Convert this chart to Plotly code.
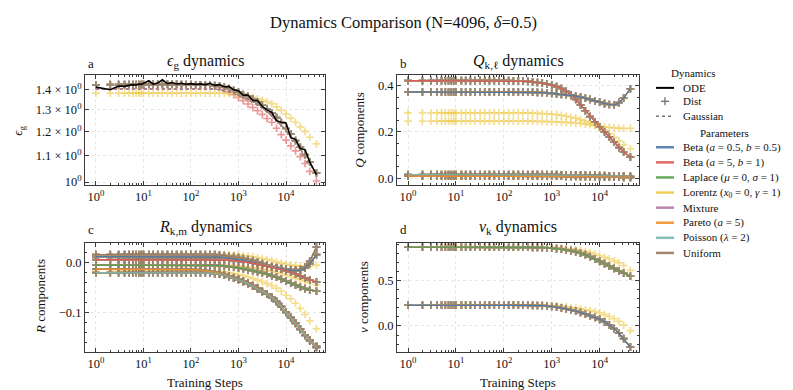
import math
import plotly.graph_objects as go

W, H = 793, 390
FONT = "Liberation Serif"

# training steps at which everything is evaluated
STEPS = [1, 2, 3, 4, 5, 6, 7, 8, 9, 10,
         13, 16, 20, 25, 32, 40, 50, 63, 79, 100,
         126, 158, 200, 251, 316, 398, 501, 631, 794, 1000,
         1259, 1585, 1995, 2512, 3162, 3981, 5012, 6310, 7943, 10000,
         12589, 15849, 19953, 25119, 31623, 43652]

DIST_NAMES = ["Beta05", "Beta51", "Laplace", "Lorentz", "Mixture", "Pareto", "Poisson", "Uniform"]
DIST_LABELS = ["Beta (<i>a</i> = 0.5, <i>b</i> = 0.5)", "Beta (<i>a</i> = 5, <i>b</i> = 1)",
               "Laplace (<i>μ</i> = 0, <i>σ</i> = 1)", "Lorentz (<i>x</i><sub>0</sub> = 0, <i>γ</i> = 1)",
               "Mixture", "Pareto (<i>a</i> = 5)", "Poisson (<i>λ</i> = 2)", "Uniform"]
DIST_COLORS = ["#4e79a7", "#e15759", "#59a14f", "#edc948", "#b07aa1", "#f28e2b", "#76b7b2", "#9c755f"]

# ---- eps_g ----
EPS_MAIN = [1.424, 1.425, 1.425, 1.425, 1.425, 1.425, 1.425, 1.425, 1.425, 1.425,
            1.426, 1.426, 1.426, 1.426, 1.426, 1.426, 1.426, 1.425, 1.425, 1.425,
            1.424, 1.424, 1.423, 1.422, 1.420, 1.417, 1.412, 1.405, 1.396, 1.386,
            1.374, 1.365, 1.352, 1.338, 1.322, 1.304, 1.285, 1.264, 1.241, 1.215,
            1.190, 1.163, 1.135, 1.105, 1.076, 1.034]
EPS_BETA51 = [1.424, 1.425, 1.425, 1.425, 1.425, 1.425, 1.425, 1.425, 1.425, 1.425,
              1.426, 1.426, 1.426, 1.426, 1.426, 1.426, 1.426, 1.425, 1.425, 1.425,
              1.424, 1.424, 1.423, 1.422, 1.418, 1.410, 1.400, 1.388, 1.374, 1.360,
              1.344, 1.328, 1.312, 1.296, 1.279, 1.260, 1.243, 1.216, 1.188, 1.165,
              1.141, 1.120, 1.097, 1.070, 1.040, 1.004]
EPS_LORENTZ = [1.382, 1.382, 1.382, 1.382, 1.382, 1.382, 1.382, 1.382, 1.382, 1.382,
               1.382, 1.382, 1.382, 1.382, 1.382, 1.382, 1.382, 1.382, 1.382, 1.382,
               1.382, 1.382, 1.382, 1.382, 1.382, 1.381, 1.380, 1.379, 1.377, 1.374,
               1.370, 1.365, 1.360, 1.353, 1.346, 1.339, 1.330, 1.314, 1.297, 1.280,
               1.262, 1.243, 1.222, 1.202, 1.177, 1.149]
EPS_GAUSS = [1.402, 1.402, 1.402, 1.402, 1.402, 1.402, 1.402, 1.402, 1.402, 1.402,
             1.402, 1.402, 1.402, 1.402, 1.402, 1.402, 1.402, 1.402, 1.402, 1.402,
             1.402, 1.402, 1.402, 1.402, 1.402, 1.398, 1.394, 1.388, 1.380, 1.371,
             1.360, 1.349, 1.337, 1.323, 1.308, 1.291, 1.273, 1.252, 1.230, 1.206,
             1.181, 1.155, 1.128, 1.100, 1.072, 1.030]
EPS_ODE = [1.412, 1.399, 1.418, 1.416, 1.421, 1.425, 1.423, 1.428, 1.426, 1.431,
           1.445, 1.428, 1.433, 1.450, 1.430, 1.436, 1.428, 1.432, 1.427, 1.430,
           1.426, 1.429, 1.425, 1.432, 1.421, 1.425, 1.414, 1.416, 1.398, 1.393,
           1.371, 1.372, 1.345, 1.345, 1.316, 1.300, 1.288, 1.250, 1.243, 1.240,
           1.175, 1.168, 1.130, 1.125, 1.075, 1.028]

# ---- Q components ----
Q_1 = [0.421, 0.421, 0.421, 0.421, 0.421, 0.421, 0.421, 0.421, 0.421, 0.421,
       0.421, 0.421, 0.421, 0.421, 0.421, 0.421, 0.421, 0.421, 0.421, 0.421,
       0.421, 0.420, 0.420, 0.419, 0.418, 0.416, 0.413, 0.410, 0.406, 0.401,
       0.395, 0.387, 0.375, 0.360, 0.340, 0.316, 0.291, 0.266, 0.243, 0.222,
       0.200, 0.178, 0.156, 0.132, 0.113, 0.091]
Q_2 = [0.372, 0.372, 0.372, 0.372, 0.372, 0.372, 0.372, 0.372, 0.372, 0.372,
       0.372, 0.372, 0.372, 0.372, 0.372, 0.372, 0.372, 0.372, 0.372, 0.372,
       0.372, 0.372, 0.372, 0.372, 0.372, 0.371, 0.370, 0.369, 0.368, 0.366,
       0.364, 0.362, 0.360, 0.357, 0.354, 0.350, 0.345, 0.340, 0.334, 0.328,
       0.322, 0.318, 0.316, 0.326, 0.346, 0.386]
Q_3 = [0.016, 0.016, 0.016, 0.016, 0.016, 0.016, 0.016, 0.016, 0.016, 0.016,
       0.016, 0.016, 0.016, 0.016, 0.016, 0.016, 0.016, 0.016, 0.016, 0.016,
       0.016, 0.016, 0.016, 0.016, 0.016, 0.016, 0.016, 0.016, 0.016, 0.016,
       0.016, 0.015, 0.015, 0.014, 0.014, 0.013, 0.013, 0.012, 0.012, 0.011,
       0.011, 0.010, 0.010, 0.009, 0.009, 0.008]
Q_4 = [0.009, 0.009, 0.009, 0.009, 0.009, 0.009, 0.009, 0.009, 0.009, 0.009,
       0.009, 0.009, 0.009, 0.009, 0.009, 0.009, 0.009, 0.009, 0.009, 0.009,
       0.009, 0.009, 0.009, 0.009, 0.009, 0.009, 0.009, 0.009, 0.009, 0.009,
       0.009, 0.009, 0.008, 0.008, 0.008, 0.007, 0.007, 0.007, 0.006, 0.006,
       0.006, 0.005, 0.005, 0.005, 0.004, 0.004]
QL_1 = [0.282, 0.282, 0.282, 0.282, 0.282, 0.282, 0.282, 0.282, 0.282, 0.282,
        0.282, 0.282, 0.282, 0.282, 0.282, 0.282, 0.282, 0.282, 0.282, 0.282,
        0.282, 0.282, 0.282, 0.282, 0.282, 0.281, 0.280, 0.279, 0.278, 0.276,
        0.274, 0.271, 0.268, 0.264, 0.259, 0.253, 0.246, 0.238, 0.229, 0.219,
        0.207, 0.192, 0.176, 0.160, 0.145, 0.127]
QL_2 = [0.246, 0.246, 0.246, 0.246, 0.246, 0.246, 0.246, 0.246, 0.246, 0.246,
        0.246, 0.246, 0.246, 0.246, 0.246, 0.246, 0.246, 0.246, 0.246, 0.246,
        0.246, 0.246, 0.246, 0.246, 0.246, 0.246, 0.245, 0.245, 0.244, 0.244,
        0.243, 0.242, 0.241, 0.240, 0.238, 0.236, 0.233, 0.230, 0.227, 0.224,
        0.221, 0.219, 0.217, 0.216, 0.215, 0.215]

# ---- R components ----
R_A = [0.015, 0.015, 0.015, 0.015, 0.015, 0.015, 0.015, 0.015, 0.015, 0.015,
       0.015, 0.015, 0.015, 0.015, 0.015, 0.015, 0.015, 0.015, 0.015, 0.015,
       0.015, 0.015, 0.015, 0.015, 0.015, 0.014, 0.013, 0.012, 0.011, 0.009,
       0.007, 0.005, 0.003, 0.000, -0.003, -0.006, -0.009, -0.011, -0.013, -0.014,
       -0.015, -0.016, -0.015, -0.010, 0.002, 0.030]
R_B = [0.011, 0.011, 0.011, 0.011, 0.011, 0.011, 0.011, 0.011, 0.011, 0.011,
       0.011, 0.011, 0.011, 0.011, 0.011, 0.011, 0.011, 0.011, 0.011, 0.011,
       0.011, 0.011, 0.011, 0.011, 0.011, 0.010, 0.009, 0.008, 0.007, 0.006,
       0.004, 0.002, 0.000, -0.002, -0.005, -0.008, -0.010, -0.012, -0.014, -0.015,
       -0.016, -0.017, -0.016, -0.012, -0.003, 0.015]
R_C = [0.005, 0.005, 0.005, 0.005, 0.005, 0.005, 0.005, 0.005, 0.005, 0.005,
       0.005, 0.005, 0.005, 0.005, 0.005, 0.005, 0.005, 0.005, 0.005, 0.005,
       0.005, 0.005, 0.005, 0.005, 0.005, 0.005, 0.004, 0.004, 0.003, 0.002,
       0.001, 0.000, -0.002, -0.004, -0.006, -0.008, -0.010, -0.012, -0.014, -0.017,
       -0.020, -0.024, -0.028, -0.032, -0.036, -0.040]
R_D = [-0.006, -0.006, -0.006, -0.006, -0.006, -0.006, -0.006, -0.006, -0.006, -0.006,
       -0.006, -0.006, -0.006, -0.006, -0.006, -0.006, -0.006, -0.006, -0.006, -0.006,
       -0.006, -0.006, -0.006, -0.006, -0.006, -0.007, -0.008, -0.009, -0.010, -0.012,
       -0.013, -0.015, -0.017, -0.019, -0.021, -0.024, -0.027, -0.030, -0.034, -0.038,
       -0.042, -0.046, -0.050, -0.053, -0.056, -0.058]
R_E = [-0.014, -0.014, -0.014, -0.014, -0.014, -0.014, -0.014, -0.014, -0.014, -0.014,
       -0.014, -0.014, -0.014, -0.014, -0.014, -0.014, -0.014, -0.014, -0.014, -0.015,
       -0.015, -0.016, -0.017, -0.018, -0.020, -0.022, -0.025, -0.028, -0.031, -0.034,
       -0.038, -0.042, -0.047, -0.052, -0.058, -0.063, -0.070, -0.078, -0.088, -0.099,
       -0.110, -0.121, -0.133, -0.145, -0.155, -0.168]
R_F = [-0.021, -0.021, -0.021, -0.021, -0.021, -0.021, -0.021, -0.021, -0.021, -0.021,
       -0.021, -0.021, -0.021, -0.021, -0.021, -0.021, -0.021, -0.021, -0.021, -0.021,
       -0.021, -0.021, -0.021, -0.022, -0.023, -0.024, -0.026, -0.029, -0.032, -0.035,
       -0.039, -0.043, -0.048, -0.053, -0.059, -0.064, -0.071, -0.079, -0.089, -0.100,
       -0.111, -0.122, -0.134, -0.146, -0.157, -0.170]
RL_A = [0.015, 0.015, 0.015, 0.015, 0.015, 0.015, 0.015, 0.015, 0.015, 0.015,
        0.015, 0.015, 0.015, 0.015, 0.015, 0.015, 0.015, 0.015, 0.015, 0.015,
        0.015, 0.015, 0.015, 0.015, 0.015, 0.015, 0.015, 0.015, 0.014, 0.014,
        0.013, 0.012, 0.011, 0.009, 0.007, 0.005, 0.003, 0.000, -0.002, -0.004,
        -0.006, -0.007, -0.008, -0.008, -0.008, -0.006]
RL_D = [-0.006, -0.006, -0.006, -0.006, -0.006, -0.006, -0.006, -0.006, -0.006, -0.006,
        -0.006, -0.006, -0.006, -0.006, -0.006, -0.006, -0.006, -0.006, -0.006, -0.006,
        -0.006, -0.006, -0.006, -0.006, -0.006, -0.006, -0.006, -0.007, -0.007, -0.008,
        -0.009, -0.010, -0.011, -0.012, -0.014, -0.016, -0.018, -0.020, -0.023, -0.026,
        -0.029, -0.032, -0.035, -0.038, -0.041, -0.045]
RL_E = [-0.018, -0.018, -0.018, -0.018, -0.018, -0.018, -0.018, -0.018, -0.018, -0.018,
        -0.018, -0.018, -0.018, -0.018, -0.018, -0.018, -0.018, -0.018, -0.018, -0.018,
        -0.018, -0.018, -0.018, -0.018, -0.018, -0.019, -0.020, -0.021, -0.023, -0.025,
        -0.027, -0.030, -0.033, -0.036, -0.039, -0.043, -0.047, -0.052, -0.058, -0.066,
        -0.073, -0.082, -0.092, -0.104, -0.117, -0.133]

# ---- v components ----
V_1 = [0.872, 0.872, 0.872, 0.872, 0.872, 0.872, 0.872, 0.872, 0.872, 0.872,
       0.872, 0.872, 0.872, 0.872, 0.872, 0.872, 0.872, 0.872, 0.872, 0.872,
       0.872, 0.872, 0.872, 0.872, 0.872, 0.871, 0.870, 0.868, 0.866, 0.862,
       0.857, 0.851, 0.843, 0.834, 0.823, 0.808, 0.790, 0.768, 0.743, 0.716,
       0.690, 0.664, 0.638, 0.611, 0.585, 0.551]
V_2 = [0.230, 0.230, 0.230, 0.230, 0.230, 0.230, 0.230, 0.230, 0.230, 0.230,
       0.230, 0.230, 0.230, 0.230, 0.230, 0.230, 0.230, 0.230, 0.230, 0.230,
       0.230, 0.230, 0.230, 0.230, 0.230, 0.229, 0.227, 0.225, 0.221, 0.216,
       0.209, 0.200, 0.190, 0.179, 0.166, 0.150, 0.133, 0.114, 0.095, 0.074,
       0.046, 0.012, -0.030, -0.080, -0.140, -0.234]
VL_1 = [0.872, 0.872, 0.872, 0.872, 0.872, 0.872, 0.872, 0.872, 0.872, 0.872,
        0.872, 0.872, 0.872, 0.872, 0.872, 0.872, 0.872, 0.872, 0.872, 0.872,
        0.872, 0.872, 0.872, 0.872, 0.872, 0.872, 0.871, 0.870, 0.869, 0.868,
        0.865, 0.862, 0.858, 0.852, 0.845, 0.836, 0.825, 0.812, 0.797, 0.778,
        0.760, 0.745, 0.722, 0.700, 0.670, 0.617]
VL_2 = [0.230, 0.230, 0.230, 0.230, 0.230, 0.230, 0.230, 0.230, 0.230, 0.230,
        0.230, 0.230, 0.230, 0.230, 0.230, 0.230, 0.230, 0.230, 0.230, 0.230,
        0.230, 0.230, 0.230, 0.230, 0.230, 0.230, 0.229, 0.228, 0.227, 0.225,
        0.222, 0.216, 0.211, 0.205, 0.198, 0.190, 0.180, 0.170, 0.158, 0.145,
        0.126, 0.105, 0.080, 0.050, 0.010, -0.051]

X_TICKS = [1, 10, 100, 1000, 10000]
X_TICK_TEXT = ["10<sup>0</sup>", "10<sup>1</sup>", "10<sup>2</sup>", "10<sup>3</sup>", "10<sup>4</sup>"]
X_MINOR = [m * 10 ** k for k in range(5) for m in range(2, 10)]
EPS_TICKS = [1.0, 1.1, 1.2, 1.3, 1.4]
EPS_TICK_TEXT = ["10<sup>0</sup>", "1.1 × 10<sup>0</sup>", "1.2 × 10<sup>0</sup>",
                 "1.3 × 10<sup>0</sup>", "1.4 × 10<sup>0</sup>"]


def px(x):
    return x / W


def py(y):
    return 1 - y / H


def rgba(c, a):
    c = c.lstrip("#")
    return "rgba(%d,%d,%d,%s)" % (int(c[0:2], 16), int(c[2:4], 16), int(c[4:6], 16), a)


fig = go.Figure()


def add_markers(xa, ya, comps):
    for name, col in zip(DIST_NAMES, DIST_COLORS):
        xs, ys = [], []
        for c in comps[name]:
            xs += STEPS + [None]
            ys += c + [None]
        fig.add_trace(go.Scatter(
            x=xs, y=ys, mode="markers", xaxis=xa, yaxis=ya, hoverinfo="skip",
            marker=dict(symbol="cross-thin", size=5.5, line=dict(width=1.7, color=rgba(col, 0.62)))))


def add_lines(xa, ya, comps, tops, dash="solid", width=1.1):
    for i, top in enumerate(tops):
        order = [d for d in DIST_NAMES if d != top] + [top]
        for d in order:
            col = DIST_COLORS[DIST_NAMES.index(d)]
            fig.add_trace(go.Scatter(
                x=STEPS, y=comps[i], mode="lines", xaxis=xa, yaxis=ya, hoverinfo="skip",
                line=dict(color=col, width=width, dash=dash)))


# panel a
eps = {d: [EPS_MAIN] for d in DIST_NAMES}
eps["Beta51"] = [EPS_BETA51]
eps["Lorentz"] = [EPS_LORENTZ]
add_markers("x", "y", eps)
add_lines("x", "y", [EPS_GAUSS], ["Mixture"], dash="dot", width=1.1)
fig.add_trace(go.Scatter(x=STEPS, y=EPS_ODE, mode="lines", xaxis="x", yaxis="y",
                         line=dict(color="black", width=1.6), hoverinfo="skip"))

# panel b
qc = {d: [Q_1, Q_2, Q_3, Q_4] for d in DIST_NAMES}
qc["Lorentz"] = [QL_1, QL_2, Q_3, Q_4]
add_markers("x2", "y2", qc)
add_lines("x2", "y2", [Q_1, Q_2, Q_3, Q_4], ["Beta51", "Beta05", "Poisson", "Pareto"])

# panel c
rc = {d: [R_A, R_B, R_C, R_D, R_E, R_F] for d in DIST_NAMES}
rc["Lorentz"] = [RL_A, RL_D, RL_E]
add_markers("x3", "y3", rc)
add_lines("x3", "y3", [R_A, R_B, R_C, R_D, R_E, R_F],
          ["Uniform", "Beta05", "Beta51", "Laplace", "Pareto", "Poisson"])

# panel d
vc = {d: [V_1, V_2] for d in DIST_NAMES}
vc["Lorentz"] = [VL_1, VL_2]
add_markers("x4", "y4", vc)
add_lines("x4", "y4", [V_1, V_2], ["Laplace", "Beta05"])

AXC = "#3a3a3a"
common = dict(showline=True, linecolor=AXC, linewidth=1, mirror="ticks", ticks="inside",
              ticklen=4, tickwidth=0.8, tickcolor=AXC, showgrid=True, gridcolor="#e6e6e6",
              griddash="dot", gridwidth=0.8, zeroline=False,
              tickfont=dict(family=FONT, size=12.5, color="#111"))


def xaxis(dom, anchor):
    return dict(common, type="log", range=[-0.23, 4.82], domain=dom, anchor=anchor,
                tickvals=X_TICKS, ticktext=X_TICK_TEXT,
                minor=dict(ticks="inside", ticklen=2, tickvals=X_MINOR, tickcolor=AXC, showgrid=False))


LEFT = [px(77), px(317)]
RIGHT = [px(389), px(631)]
TOP = [py(179), py(68)]
BOT = [py(348), py(237)]

fig.update_layout(
    width=W, height=H, margin=dict(l=0, r=0, t=0, b=0),
    paper_bgcolor="white", plot_bgcolor="white", showlegend=False,
    font=dict(family=FONT, size=12, color="#111"),
    xaxis=xaxis(LEFT, "y"), xaxis2=xaxis(RIGHT, "y2"),
    xaxis3=xaxis(LEFT, "y3"), xaxis4=xaxis(RIGHT, "y4"),
    yaxis=dict(common, type="log", domain=TOP, anchor="x",
               range=[math.log10(0.989), math.log10(1.474)],
               tickvals=EPS_TICKS, ticktext=EPS_TICK_TEXT),
    yaxis2=dict(common, domain=TOP, anchor="x2", range=[-0.03, 0.444],
                tickvals=[0.0, 0.2, 0.4], tickformat=".1f",
                minor=dict(ticks="inside", ticklen=2, dtick=0.05, tickcolor=AXC, showgrid=False)),
    yaxis3=dict(common, domain=BOT, anchor="x3", range=[-0.18, 0.039],
                dtick=0.1, tickformat=".1f",
                minor=dict(ticks="inside", ticklen=2, dtick=0.02, tickcolor=AXC, showgrid=False)),
    yaxis4=dict(common, domain=BOT, anchor="x4", range=[-0.293, 0.924],
                dtick=0.5, tickformat=".1f",
                minor=dict(ticks="inside", ticklen=2, dtick=0.1, tickcolor=AXC, showgrid=False)),
)

ann = []


def text(x, y, s, size=12, angle=0, xanchor="center"):
    ann.append(dict(x=px(x), y=py(y), xref="paper", yref="paper", text=s, showarrow=False,
                    textangle=angle, xanchor=xanchor, yanchor="middle",
                    font=dict(family=FONT, size=size, color="#111")))


text(395, 15, "Dynamics Comparison (N=4096, <i>δ</i>=0.5)", size=16.5)
text(197, 54, "<i>ϵ</i><sub>g</sub> dynamics", size=16)
text(510, 54, "<i>Q</i><sub>k,ℓ</sub> dynamics", size=16)
text(197, 222, "<i>R</i><sub>k,m</sub> dynamics", size=16)
text(510, 222, "<i>v</i><sub>k</sub> dynamics", size=16)
for lab, x, y in [("a", 83, 56), ("b", 395, 56), ("c", 83, 224), ("d", 395, 224)]:
    text(x, y, lab, size=13)
text(11, 124, "<i>ϵ</i><sub>g</sub>", size=13, angle=-90)
text(352, 124, "<i>Q</i> components", size=13, angle=-90)
text(32, 292, "<i>R</i> components", size=13, angle=-90)
text(355, 292, "<i>v</i> components", size=13, angle=-90)
text(197, 378, "Training Steps", size=13)
text(510, 378, "Training Steps", size=13)

# legend, drawn by hand
shapes = []
LX0, LX1, LTX = 648, 666, 673
LF = 11
text(685, 66, "Dynamics", size=LF)
shapes.append(dict(type="line", xref="paper", yref="paper", x0=px(LX0), x1=px(LX1),
                   y0=py(80.7), y1=py(80.7), line=dict(color="black", width=2)))
text(LTX, 80.7, "ODE", size=LF, xanchor="left")
shapes.append(dict(type="line", xref="paper", yref="paper", x0=px(653), x1=px(661),
                   y0=py(94.3), y1=py(94.3), line=dict(color="#777", width=1.4)))
shapes.append(dict(type="line", xref="paper", yref="paper", x0=px(657), x1=px(657),
                   y0=py(90.3), y1=py(98.3), line=dict(color="#777", width=1.4)))
text(LTX, 94.3, "Dist", size=LF, xanchor="left")
shapes.append(dict(type="line", xref="paper", yref="paper", x0=px(LX0), x1=px(LX1),
                   y0=py(109.3), y1=py(109.3), line=dict(color="#777", width=1.5, dash="dot")))
text(LTX, 109.3, "Gaussian", size=LF, xanchor="left")
text(716, 126, "Parameters", size=LF)
for i, (lab, col) in enumerate(zip(DIST_LABELS, DIST_COLORS)):
    y = 140.7 + i * 15.25
    shapes.append(dict(type="line", xref="paper", yref="paper", x0=px(LX0), x1=px(LX1),
                       y0=py(y), y1=py(y), line=dict(color=rgba(col, 0.9), width=2.5)))
    text(LTX, y, lab, size=LF, xanchor="left")

fig.update_layout(annotations=ann, shapes=shapes)
fig.write_html("out.html")
